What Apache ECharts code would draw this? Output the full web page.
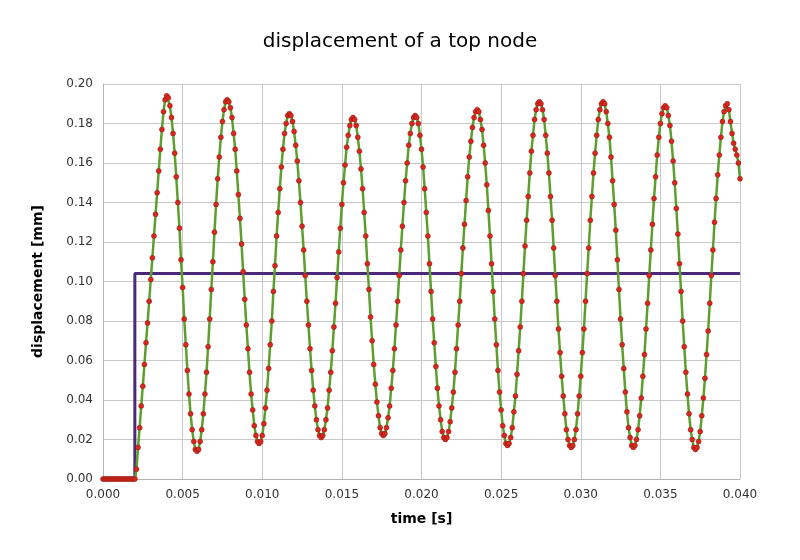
<!DOCTYPE html>
<html><head><meta charset="utf-8">
<script src="https://cdn.jsdelivr.net/npm/echarts@6/dist/echarts.min.js"></script>
<style>html,body{margin:0;padding:0;background:#fff}#c{width:800px;height:560px}</style>
</head><body><div id="c"></div>
<script>
const title = 'displacement of a top node';
const xName = 'time [s]';
const yName = 'displacement [mm]';
const sampleStep = 0.0001; // seconds between samples, first sample at t = 0
const displacement = [
0,0,0,0,0,0,0,0,0,0,0,0,0,0,0,0,0,0,0,0,0,
.005,.016,.026,.037,.047,.058,.069,.079,.090,.101,.112,.123,.134,.145,.156,.167,.177,.186,.192,.194,
.193,.189,.183,.175,.165,.153,.140,.127,.111,.097,.081,.068,.055,.043,.033,.025,.019,.015,.014,
.015,.019,.025,.033,.043,.054,.067,.081,.096,.110,.125,.139,.152,.163,.173,.181,.187,.191,.192,
.191,.188,.183,.175,.167,.156,.144,.132,.119,.105,.091,.078,.066,.054,.043,.035,.027,.022,.019,.018,
.019,.022,.028,.036,.045,.056,.068,.080,.095,.108,.123,.135,.147,.158,.167,.175,.180,.184,.185,
.184,.181,.176,.169,.161,.151,.140,.128,.116,.103,.090,.078,.066,.055,.045,.037,.030,.025,.022,.021,
.022,.025,.030,.036,.045,.054,.065,.077,.089,.102,.115,.127,.139,.150,.159,.168,.174,.179,.182,.183,
.182,.179,.173,.166,.157,.147,.135,.123,.109,.096,.082,.070,.058,.048,.039,.032,.026,.023,.022,
.023,.026,.031,.037,.046,.055,.066,.078,.090,.103,.116,.128,.140,.151,.160,.169,.175,.180,.183,.184,
.183,.180,.174,.167,.158,.147,.135,.123,.109,.095,.081,.069,.057,.046,.037,.030,.024,.021,.020,
.021,.024,.029,.036,.044,.054,.066,.078,.090,.104,.117,.129,.141,.153,.163,.171,.178,.183,.186,.187,
.186,.182,.177,.169,.160,.149,.136,.123,.109,.095,.081,.068,.055,.044,.035,.027,.022,.018,.017,
.018,.021,.026,.034,.042,.053,.065,.077,.090,.104,.118,.131,.143,.155,.166,.174,.182,.187,.190,.191,
.190,.187,.182,.174,.165,.155,.143,.131,.117,.103,.090,.076,.064,.052,.042,.033,.025,.020,.017,.016,
.017,.020,.025,.033,.042,.052,.064,.076,.090,.104,.117,.131,.143,.155,.165,.174,.182,.187,.190,.191,
.190,.186,.180,.173,.163,.151,.139,.126,.111,.096,.081,.068,.056,.044,.034,.026,.021,.017,.016,
.017,.020,.025,.032,.041,.052,.063,.076,.089,.103,.116,.129,.142,.153,.164,.173,.180,.185,.188,.189,
.188,.184,.179,.171,.161,.150,.137,.124,.109,.095,.080,.067,.054,.043,.033,.025,.020,.016,.015,
.016,.019,.024,.032,.041,.051,.063,.075,.089,.103,.116,.130,.142,.154,.164,.173,.181,.186,.189,.190,
.187,.181,.175,.170,.167,.164,.160,.152
];
const stepTimes = [0, 0.002, 0.002, 0.002, 0.040];
const stepValues = [0, 0, 0.052, 0.104, 0.104];

const dispData = displacement.map((v, i) => [+(i * sampleStep).toFixed(4), v]);
const stepData = stepTimes.map((t, i) => [t, stepValues[i]]);

const chart = echarts.init(document.getElementById('c'));
chart.setOption({
  animation: false,
  title: { text: title, left: 'center', top: 27, textStyle: { fontFamily: 'DejaVu Sans', fontSize: 20, fontWeight: 'normal', color: '#000' } },
  grid: { left: 103, right: 60, top: 84, bottom: 81 },
  xAxis: {
    type: 'value', min: 0, max: 0.04, interval: 0.005,
    name: xName, nameLocation: 'middle', nameGap: 33,
    nameTextStyle: { fontFamily: 'DejaVu Sans', fontSize: 14, fontWeight: 'bold', color: '#000' },
    axisLine: { lineStyle: { color: '#b3b3b3' } },
    axisTick: { show: false },
    axisLabel: { formatter: v => v.toFixed(3), color: '#333', fontFamily: 'DejaVu Sans', fontSize: 12, margin: 10 },
    splitLine: { show: true, lineStyle: { color: '#c8c8c8' } }
  },
  yAxis: {
    type: 'value', min: 0, max: 0.2, interval: 0.02,
    name: yName, nameLocation: 'middle', nameGap: 58,
    nameTextStyle: { fontFamily: 'DejaVu Sans', fontSize: 14, fontWeight: 'bold', color: '#000' },
    axisLine: { show: true, lineStyle: { color: '#b3b3b3' } },
    axisTick: { show: false },
    axisLabel: { formatter: v => v.toFixed(2), color: '#333', fontFamily: 'DejaVu Sans', fontSize: 12, margin: 10 },
    splitLine: { show: true, lineStyle: { color: '#c8c8c8' } }
  },
  series: [
    { type: 'line', data: stepData, showSymbol: false, lineStyle: { color: '#4a2a78', width: 3 }, z: 2 },
    { type: 'line', data: dispData, symbol: 'circle', symbolSize: 5, showAllSymbol: true,
      lineStyle: { color: '#5d9e2d', width: 2.5 },
      itemStyle: { color: '#d8281c', borderColor: '#8a1510', borderWidth: 0.5 }, z: 3 }
  ]
});
</script></body></html>
